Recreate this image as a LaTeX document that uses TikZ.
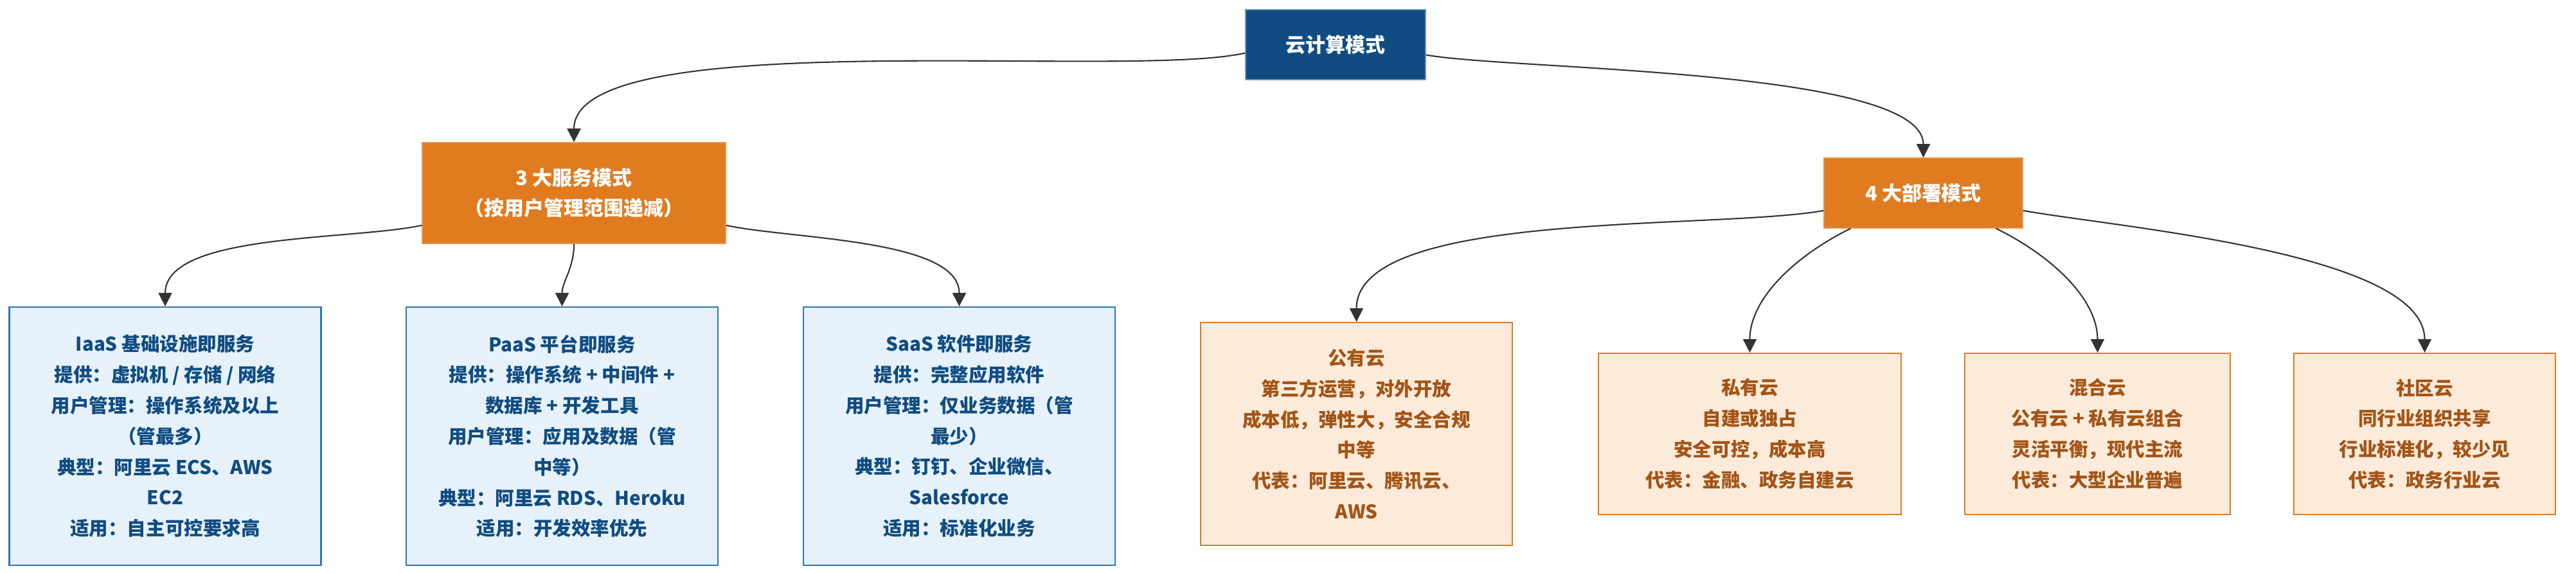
\documentclass[tikz,border=0pt]{standalone}
\usepackage{fontspec}
\setmainfont{Noto Sans CJK SC}
\usetikzlibrary{positioning,arrows.meta}
\definecolor{navy}{RGB}{16,76,129}
\definecolor{amber}{RGB}{224,123,32}
\definecolor{skyfill}{RGB}{230,241,250}
\definecolor{skyline}{RGB}{46,117,182}
\definecolor{peachfill}{RGB}{252,235,218}
\definecolor{rust}{RGB}{163,84,22}
\definecolor{wire}{RGB}{51,51,51}
\tikzset{
  box/.style={rectangle,inner sep=0pt,align=center,
    font=\bfseries\fontsize{8.4}{13.6}\selectfont},
  headbox/.style={box,fill=navy,draw=navy!60,text=white,
    font=\bfseries\fontsize{8.8}{13.4}\selectfont},
  groupbox/.style={box,fill=amber,draw=amber!80,text=white,
    font=\bfseries\fontsize{8.8}{13.4}\selectfont},
  svcbox/.style={box,fill=skyfill,draw=skyline,line width=0.6pt,text=navy,
    minimum width=4.85cm,minimum height=4.02cm},
  depbox/.style={box,fill=peachfill,draw=amber,line width=0.6pt,text=rust,
    minimum height=2.51cm},
  conn/.style={draw=wire,line width=0.6pt,-{Triangle[length=6pt,width=6pt]}}
}
\begin{document}
\begin{tikzpicture}
  \useasboundingbox (0,0) rectangle (40.08,-8.92);
  % top level
  \node[headbox,minimum width=2.8cm,minimum height=1.09cm] (root) at (20.78,-0.695) {云计算模式};
  \node[groupbox,minimum width=4.72cm,minimum height=1.57cm] (svc) at (8.93,-3.005)
    {3 大服务模式\\（按用户管理范围递减）};
  \node[groupbox,minimum width=3.09cm,minimum height=1.09cm] (dep) at (29.925,-3.005) {4 大部署模式};
  % service models
  \node[svcbox] (iaas) at (2.57,-6.79) {IaaS 基础设施即服务\\提供：虚拟机 / 存储 / 网络\\用户管理：操作系统及以上\\（管最多）\\典型：阿里云 ECS、AWS\\EC2\\适用：自主可控要求高};
  \node[svcbox] (paas) at (8.745,-6.79) {PaaS 平台即服务\\提供：操作系统 + 中间件 +\\数据库 + 开发工具\\用户管理：应用及数据（管\\中等）\\典型：阿里云 RDS、Heroku\\适用：开发效率优先};
  \node[svcbox] (saas) at (14.925,-6.79) {SaaS 软件即服务\\提供：完整应用软件\\用户管理：仅业务数据（管\\最少）\\典型：钉钉、企业微信、\\Salesforce\\适用：标准化业务};
  % deployment models
  \node[depbox,minimum width=4.85cm,minimum height=3.47cm] (pub) at (21.105,-6.755) {公有云\\第三方运营，对外开放\\成本低，弹性大，安全合规\\中等\\代表：阿里云、腾讯云、\\AWS};
  \node[depbox,minimum width=4.71cm] (pri) at (27.225,-6.755) {私有云\\自建或独占\\安全可控，成本高\\代表：金融、政务自建云};
  \node[depbox,minimum width=4.13cm] (hyb) at (32.635,-6.755) {混合云\\公有云 + 私有云组合\\灵活平衡，现代主流\\代表：大型企业普遍};
  \node[depbox,minimum width=4.07cm] (com) at (37.725,-6.755) {社区云\\同行业组织共享\\行业标准化，较少见\\代表：政务行业云};
  % links
  \draw[conn] ([yshift=-1.3mm]root.west) to[out=193,in=90,looseness=0.45] (svc.north);
  \draw[conn] ([yshift=-1.6mm]root.east) to[out=-10,in=90,looseness=0.45] (dep.north);
  \draw[conn] (svc) to[out=192,in=90,looseness=0.7] (iaas.north);
  \draw[conn] (svc) to[out=-90,in=90] (paas.north);
  \draw[conn] (svc) to[out=-12,in=90,looseness=0.7] (saas.north);
  \draw[conn] (dep) to[out=190,in=90,looseness=0.6] (pub.north);
  \draw[conn] (dep) to[out=206,in=90,looseness=0.9] (pri.north);
  \draw[conn] (dep) to[out=-26,in=90,looseness=0.9] (hyb.north);
  \draw[conn] (dep) to[out=-10,in=90,looseness=0.6] (com.north);
\end{tikzpicture}
\end{document}
